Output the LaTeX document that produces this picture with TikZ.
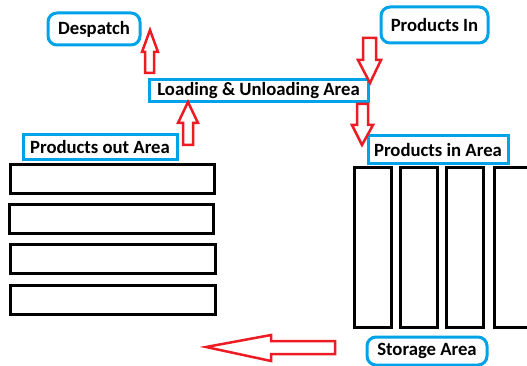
\documentclass[tikz,border=0pt]{standalone}
\usepackage{fontspec}
\setmainfont{Carlito}
\definecolor{boxcyan}{RGB}{0,162,232}
\definecolor{arrred}{RGB}{237,28,36}
\tikzset{
  label box/.style={draw=boxcyan, line width=3pt, inner sep=0pt, font=\fontsize{18.7}{20}\selectfont\bfseries, text=black},
  round box/.style={label box, rounded corners=9pt},
  rack/.style={draw=black, line width=3pt},
  block arrow/.style={draw=arrred, line width=2.5pt, line join=miter, fill=white},
}
\begin{document}
\begin{tikzpicture}[x=1pt,y=-1pt]
\useasboundingbox (0,0) rectangle (527,366);
% labels
\node[round box, minimum width=92pt, minimum height=32pt] (desp) at (94,29) {Despatch};
\node[round box, minimum width=107pt, minimum height=36pt] (pin) at (434.5,25) {Products In};
\node[label box, minimum width=219pt, minimum height=22pt] (load) at (258.5,91) {Loading \& Unloading Area};
\node[label box, minimum width=154pt, minimum height=25pt] (pout) at (100,147.5) {Products out Area};
\node[label box, minimum width=140pt, minimum height=28pt] (parea) at (438,150) {Products in Area};
\node[round box, minimum width=120pt, minimum height=28pt] (stor) at (427,351) {Storage Area};
% left racks
\draw[rack] (10,165) rectangle (214,194);
\draw[rack] (9,204) rectangle (213,233);
\draw[rack] (10,244) rectangle (215,273);
\draw[rack] (10,285) rectangle (215,314);
% right racks
\draw[rack] (354,168) rectangle (391,327);
\draw[rack] (400,168) rectangle (437,327);
\draw[rack] (446,168) rectangle (483,327);
\draw[rack] (494,168) rectangle (535,327);
% block arrows
\draw[block arrow] (145,73) -- (154,73) -- (154,52) -- (158,52) -- (150,30) -- (142,52) -- (145,52) -- cycle;
\draw[block arrow] (183,145) -- (193,145) -- (193,123) -- (198,123) -- (188,102) -- (178,123) -- (183,123) -- cycle;
\draw[block arrow] (363,38) -- (376,38) -- (376,60) -- (381,60) -- (370,83) -- (358,60) -- (363,60) -- cycle;
\draw[block arrow] (357,104) -- (368,104) -- (368,125) -- (373,125) -- (362,145) -- (352,125) -- (357,125) -- cycle;
\draw[block arrow] (335,341) -- (335,354) -- (271,354) -- (271,361) -- (206,347) -- (271,335) -- (271,341) -- cycle;
\end{tikzpicture}
\end{document}
